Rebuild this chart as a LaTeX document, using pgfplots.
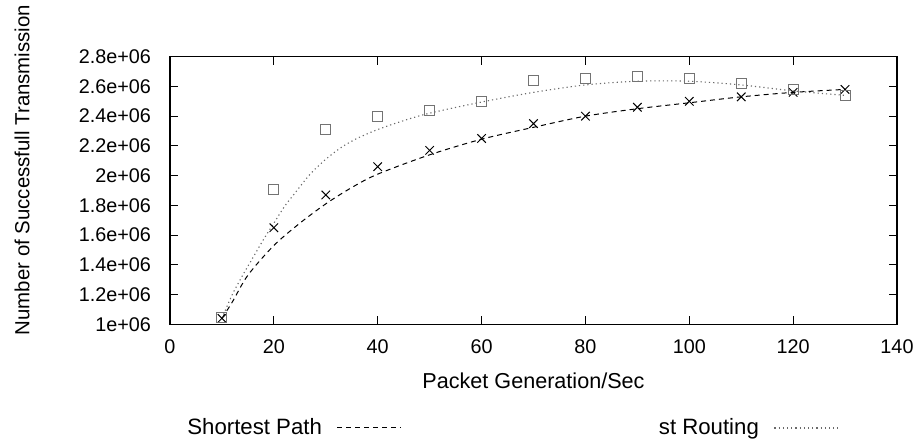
\documentclass[border=0pt]{standalone}
\usepackage{fontspec}
\setmainfont{Liberation Sans}
\usepackage{pgfplots}
\pgfplotsset{compat=1.18}
\usetikzlibrary{calc}

\definecolor{sqgray}{RGB}{115,115,115}
\definecolor{dotgray}{RGB}{105,105,105}
\newcommand{\tickfont}{\fontsize{9.9pt}{11pt}\selectfont}
\newcommand{\xlabfont}{\fontsize{10.8pt}{12pt}\selectfont}
\newcommand{\ylabfont}{\fontsize{10.2pt}{12pt}\selectfont}
\newcommand{\legfont}{\fontsize{11.1pt}{13pt}\selectfont}

\begin{document}
\tickfont
\begin{tikzpicture}
\begin{axis}[
    name=ax,
    scale only axis,
    width=363.5pt, height=133.8pt,
    xmin=0, xmax=140, ymin=1000000, ymax=2800000,
    xtick={0,20,40,60,80,100,120,140},
    ytick={1000000,1200000,1400000,1600000,1800000,2000000,2200000,2400000,2600000,2800000},
    yticklabels={1e+06,1.2e+06,1.4e+06,1.6e+06,1.8e+06,2e+06,2.2e+06,2.4e+06,2.6e+06,2.8e+06},
    scaled y ticks=false,
    tick align=inside, tick pos=both,
    major tick length=4pt,
    axis line style={line width=0.6pt},
    every tick/.style={line width=0.5pt, black},
    /pgf/number format/assume math mode=true,
    tick label style={font=\tickfont},
    yticklabel style={xshift=-6pt},
    xticklabel style={yshift=-4.4pt},
    xlabel={Packet Generation/Sec},
    ylabel={Number of Successfull Transmission},
    xlabel style={font=\xlabfont, at={(axis description cs:0.5,-0.212)}, anchor=center},
    ylabel style={font=\ylabfont, at={(axis description cs:-0.2036,0.5766)}, anchor=center},
    legend columns=2,
    legend plot pos=right,
    legend image code/.code={\draw[#1] (0pt,0pt) -- (32pt,0pt);},
    legend style={draw=none, fill=none, font=\legfont, inner sep=0pt,
        nodes={inner sep=0pt},
        at={(axis description cs:0.0234,-0.3875)}, anchor=west,
        /tikz/every odd column/.append style={column sep=7.5pt},
        /tikz/every even column/.append style={column sep=128.5pt}},
]
% fitted curves
\addplot[black, line width=0.5pt, dash pattern=on 2.5pt off 2pt, smooth] coordinates {
    (10,1040000) (12,1150000) (15,1330000) (20,1530000) (25,1680000) (30,1810000)
    (35,1920000) (40,2010000) (50,2140000) (60,2245000) (70,2325000) (80,2400000)
    (90,2450000) (100,2490000) (110,2530000) (120,2560000) (130,2580000)};
\addlegendentry{Shortest Path}
\addplot[dotgray, line width=0.55pt, dash pattern=on 0.6pt off 1.5pt, smooth] coordinates {
    (10,1040000) (12,1200000) (14,1330000) (16,1450000) (18,1570000) (20,1680000)
    (22,1790000) (24,1880000) (27,2010000) (30,2110000) (33,2190000) (36,2250000)
    (40,2310000) (45,2370000) (50,2420000) (60,2495000) (70,2560000) (80,2610000)
    (90,2635000) (100,2635000) (110,2610000) (120,2570000) (130,2540000)};
\addlegendentry{st Routing}
% measured points
\addplot[only marks, mark=x, mark size=3pt, black, mark options={line width=0.5pt}, forget plot] coordinates {
    (10,1040000) (20,1650000) (30,1870000) (40,2060000) (50,2170000) (60,2250000)
    (70,2350000) (80,2400000) (90,2460000) (100,2500000) (110,2530000) (120,2560000)
    (130,2580000)};
\addplot[only marks, mark=square, mark size=2.5pt, sqgray, mark options={line width=0.5pt}, forget plot] coordinates {
    (10,1047000) (20,1906000) (30,2310000) (40,2400000) (50,2440000) (60,2500000)
    (70,2640000) (80,2650000) (90,2670000) (100,2650000) (110,2620000) (120,2580000)
    (130,2540000)};
\end{axis}
\pgfresetboundingbox
\useasboundingbox ($(ax.south west)+(-85pt,-59.35pt)$) rectangle ($(ax.north east)+(11.5pt,28.35pt)$);
\end{tikzpicture}
\end{document}
